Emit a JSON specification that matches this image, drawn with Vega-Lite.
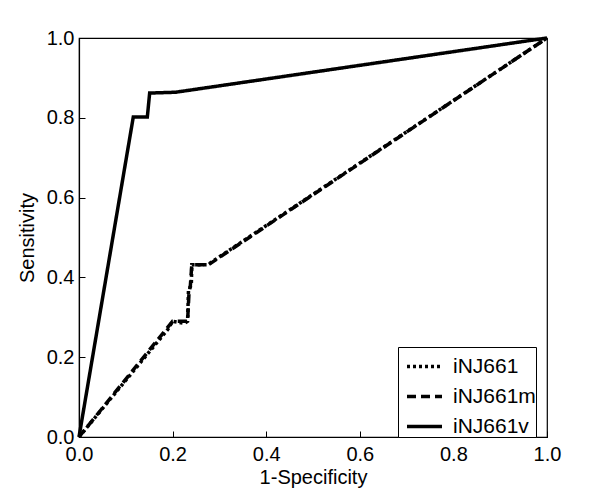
{
  "$schema": "https://vega.github.io/schema/vega-lite/v6.json",
  "autosize": {"type": "none"},
  "padding": {"left": 79, "top": 38, "right": 53, "bottom": 57},
  "width": 468,
  "height": 399,
  "background": "white",
  "config": {
    "font": "Liberation Sans",
    "view": {"stroke": "black", "strokeWidth": 1.2},
    "axis": {
      "grid": false,
      "domainColor": "black",
      "domainWidth": 1.2,
      "tickColor": "black",
      "tickSize": -6,
      "tickWidth": 1,
      "labelFlush": false,
      "labelFont": "Liberation Sans",
      "labelFontSize": 20,
      "labelColor": "black",
      "titleFont": "Liberation Sans",
      "titleFontSize": 20,
      "titleFontWeight": "normal",
      "titleColor": "black"
    }
  },
  "data": {
    "values": [
      {"series": "iNJ661", "o": 0, "x": 0, "y": 0},
      {"series": "iNJ661", "o": 1, "x": 0.19, "y": 0.27},
      {"series": "iNJ661", "o": 2, "x": 0.2, "y": 0.29},
      {"series": "iNJ661", "o": 3, "x": 0.225, "y": 0.285},
      {"series": "iNJ661", "o": 4, "x": 0.232, "y": 0.29},
      {"series": "iNJ661", "o": 5, "x": 0.234, "y": 0.37},
      {"series": "iNJ661", "o": 6, "x": 0.24, "y": 0.38},
      {"series": "iNJ661", "o": 7, "x": 0.241, "y": 0.432},
      {"series": "iNJ661", "o": 8, "x": 0.275, "y": 0.432},
      {"series": "iNJ661", "o": 9, "x": 1, "y": 1},
      {"series": "iNJ661m", "o": 0, "x": 0, "y": 0},
      {"series": "iNJ661m", "o": 1, "x": 0.2, "y": 0.29},
      {"series": "iNJ661m", "o": 2, "x": 0.232, "y": 0.29},
      {"series": "iNJ661m", "o": 3, "x": 0.235, "y": 0.36},
      {"series": "iNJ661m", "o": 4, "x": 0.238, "y": 0.38},
      {"series": "iNJ661m", "o": 5, "x": 0.241, "y": 0.432},
      {"series": "iNJ661m", "o": 6, "x": 0.277, "y": 0.432},
      {"series": "iNJ661m", "o": 7, "x": 1, "y": 1},
      {"series": "iNJ661v", "o": 0, "x": 0, "y": 0},
      {"series": "iNJ661v", "o": 1, "x": 0.116, "y": 0.802},
      {"series": "iNJ661v", "o": 2, "x": 0.146, "y": 0.802},
      {"series": "iNJ661v", "o": 3, "x": 0.151, "y": 0.862},
      {"series": "iNJ661v", "o": 4, "x": 0.206, "y": 0.864},
      {"series": "iNJ661v", "o": 5, "x": 1, "y": 1}
    ]
  },
  "mark": {"type": "line", "color": "black", "strokeWidth": 3.5, "strokeCap": "butt"},
  "encoding": {
    "x": {
      "field": "x", "type": "quantitative",
      "scale": {"domain": [0, 1], "nice": false, "zero": false},
      "axis": {"values": [0, 0.2, 0.4, 0.6, 0.8, 1], "format": ".1f", "title": "1-Specificity", "labelPadding": 13, "titlePadding": 3}
    },
    "y": {
      "field": "y", "type": "quantitative",
      "scale": {"domain": [0, 1], "nice": false, "zero": false},
      "axis": {"values": [0, 0.2, 0.4, 0.6, 0.8, 1], "format": ".1f", "title": "Sensitivity", "labelPadding": 11, "titlePadding": 9}
    },
    "order": {"field": "o", "type": "quantitative"},
    "strokeDash": {
      "field": "series", "type": "nominal",
      "scale": {"domain": ["iNJ661", "iNJ661m", "iNJ661v"], "range": [[3, 3], [9, 5], [1, 0]]},
      "legend": {
        "title": null,
        "orient": "none",
        "legendX": 319,
        "legendY": 309,
        "direction": "vertical",
        "strokeColor": "black",
        "fillColor": "white",
        "padding": 0,
        "rowPadding": -8,
        "symbolType": "stroke",
        "symbolSize": 1225,
        "symbolStrokeWidth": 3.5,
        "symbolStrokeColor": "black",
        "symbolOffset": 7,
        "labelFont": "Liberation Sans",
        "labelFontSize": 21,
        "labelColor": "black",
        "labelOffset": 9,
        "labelExpr": "datum.label + ' '"
      }
    }
  }
}
